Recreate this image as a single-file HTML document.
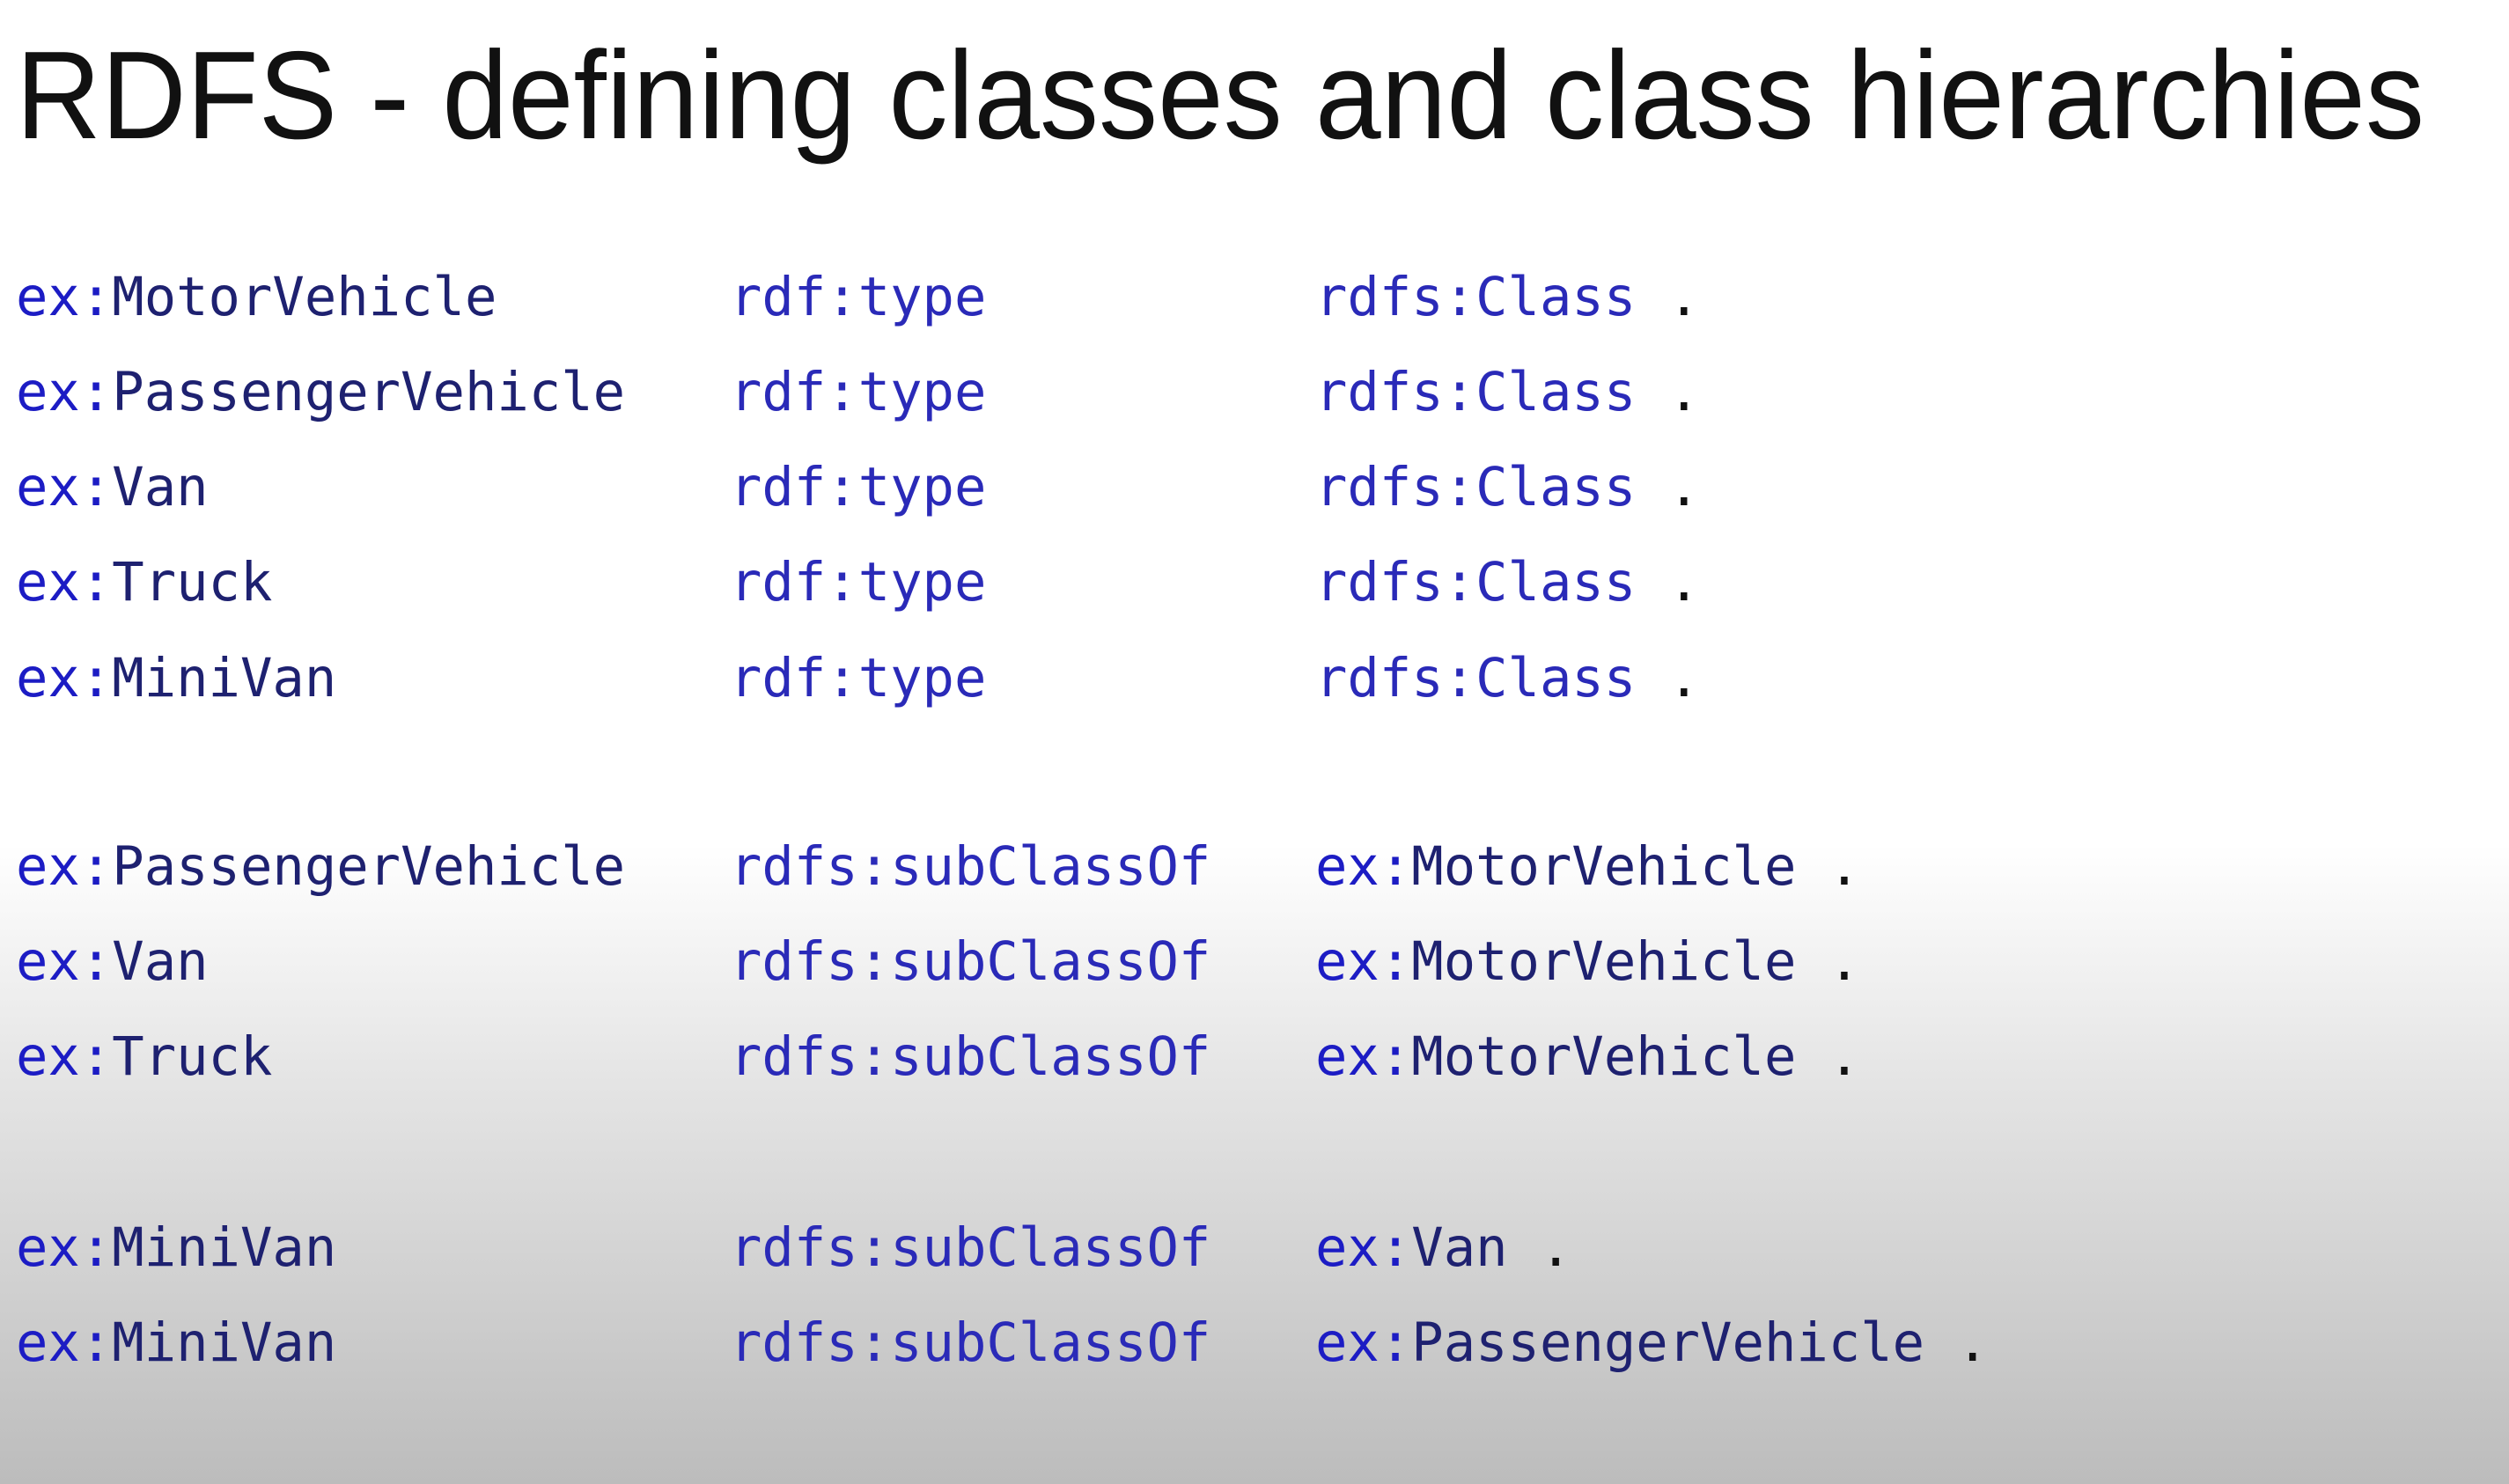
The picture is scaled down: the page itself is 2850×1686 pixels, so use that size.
<!DOCTYPE html>
<html><head><meta charset="utf-8"><style>
html,body{margin:0;padding:0;}
body{width:2850px;height:1686px;overflow:hidden;background:linear-gradient(to bottom,#ffffff 0px,#ffffff 960px,#e6e6e6 1210px,#d2d2d2 1440px,#bcbcbc 1686px);}
svg{position:absolute;left:0;top:0;}
.t{font-family:"Liberation Sans",Arial,sans-serif;font-size:142px;fill:#111;}
.m{font-family:"DejaVu Sans Mono","Liberation Mono",monospace;font-size:60.5px;}
.p{fill:#1c1cc4;}
.n{fill:#1e2170;}
.b{fill:#2a2ab8;}
</style></head><body>
<svg width="2850" height="1686" xmlns="http://www.w3.org/2000/svg">
<text class="t" x="18" y="157" textLength="2736" lengthAdjust="spacingAndGlyphs">RDFS - defining classes and class hierarchies</text>
<g class="m">
<text x="18" y="358"><tspan class="p">ex:</tspan><tspan class="n">MotorVehicle</tspan></text>
<text x="18" y="466"><tspan class="p">ex:</tspan><tspan class="n">PassengerVehicle</tspan></text>
<text x="18" y="574"><tspan class="p">ex:</tspan><tspan class="n">Van</tspan></text>
<text x="18" y="682"><tspan class="p">ex:</tspan><tspan class="n">Truck</tspan></text>
<text x="18" y="791"><tspan class="p">ex:</tspan><tspan class="n">MiniVan</tspan></text>
<text x="18" y="1005"><tspan class="p">ex:</tspan><tspan class="n">PassengerVehicle</tspan></text>
<text x="18" y="1113"><tspan class="p">ex:</tspan><tspan class="n">Van</tspan></text>
<text x="18" y="1221"><tspan class="p">ex:</tspan><tspan class="n">Truck</tspan></text>
<text x="18" y="1438"><tspan class="p">ex:</tspan><tspan class="n">MiniVan</tspan></text>
<text x="18" y="1546"><tspan class="p">ex:</tspan><tspan class="n">MiniVan</tspan></text>

<text class="b" x="829" y="358">rdf:type</text>
<text class="b" x="829" y="466">rdf:type</text>
<text class="b" x="829" y="574">rdf:type</text>
<text class="b" x="829" y="682">rdf:type</text>
<text class="b" x="829" y="791">rdf:type</text>
<text class="b" x="829" y="1005">rdfs:subClassOf</text>
<text class="b" x="829" y="1113">rdfs:subClassOf</text>
<text class="b" x="829" y="1221">rdfs:subClassOf</text>
<text class="b" x="829" y="1438">rdfs:subClassOf</text>
<text class="b" x="829" y="1546">rdfs:subClassOf</text>

<text x="1494" y="358" xml:space="preserve"><tspan class="b">rdfs:Class</tspan><tspan fill="#111"> .</tspan></text>
<text x="1494" y="466" xml:space="preserve"><tspan class="b">rdfs:Class</tspan><tspan fill="#111"> .</tspan></text>
<text x="1494" y="574" xml:space="preserve"><tspan class="b">rdfs:Class</tspan><tspan fill="#111"> .</tspan></text>
<text x="1494" y="682" xml:space="preserve"><tspan class="b">rdfs:Class</tspan><tspan fill="#111"> .</tspan></text>
<text x="1494" y="791" xml:space="preserve"><tspan class="b">rdfs:Class</tspan><tspan fill="#111"> .</tspan></text>
<text x="1494" y="1005" xml:space="preserve"><tspan class="p">ex:</tspan><tspan class="n">MotorVehicle</tspan><tspan fill="#111"> .</tspan></text>
<text x="1494" y="1113" xml:space="preserve"><tspan class="p">ex:</tspan><tspan class="n">MotorVehicle</tspan><tspan fill="#111"> .</tspan></text>
<text x="1494" y="1221" xml:space="preserve"><tspan class="p">ex:</tspan><tspan class="n">MotorVehicle</tspan><tspan fill="#111"> .</tspan></text>
<text x="1494" y="1438" xml:space="preserve"><tspan class="p">ex:</tspan><tspan class="n">Van</tspan><tspan fill="#111"> .</tspan></text>
<text x="1494" y="1546" xml:space="preserve"><tspan class="p">ex:</tspan><tspan class="n">PassengerVehicle</tspan><tspan fill="#111"> .</tspan></text>
</g>
</svg>
</body></html>
